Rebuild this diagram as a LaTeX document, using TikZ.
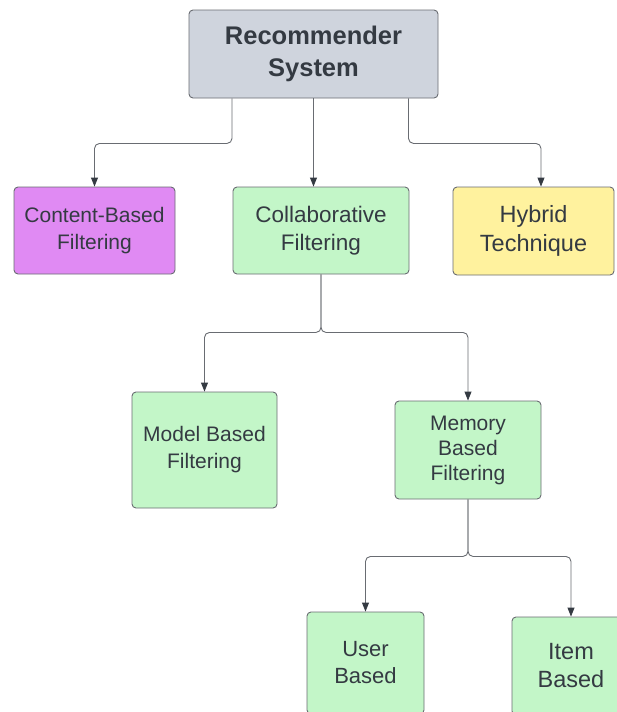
\documentclass[tikz,border=0pt]{standalone}
\usepackage{fontspec}
\setmainfont{Liberation Sans}
\usepackage{tikz}
\usetikzlibrary{arrows.meta}
\usepackage{xcolor}
\definecolor{ColGrey}{RGB}{207,212,221}
\definecolor{ColPurple}{RGB}{224,138,243}
\definecolor{ColGreen}{RGB}{195,246,200}
\definecolor{ColYellow}{RGB}{255,242,158}
\definecolor{ColLine}{RGB}{105,108,114}
\definecolor{ColText}{RGB}{52,58,66}
\tikzstyle{BoxTree}=[rectangle,rounded corners=4pt,draw=ColLine,line width=0.9pt,
inner sep=2pt,align=center,text=ColText]
\tikzstyle{LinkTree}=[ColLine,line width=0.9pt,rounded corners=5pt,
-{Triangle[length=9pt,width=7pt,color=ColText]}]

\begin{document}
\begin{tikzpicture}[x=1pt,y=-1pt]
        \useasboundingbox(0,0)rectangle(617,712);
        \node[BoxTree,fill=ColGrey,minimum width=249pt,minimum height=88pt,
          font=\bfseries\fontsize{25.5}{32}\selectfont](root)at(313.5,54){Recommender\\System};
        \node[BoxTree,fill=ColPurple,minimum width=161pt,minimum height=87pt,
          font=\fontsize{21}{27}\selectfont](content)at(94.5,230.5){Content-Based\\Filtering};
        \node[BoxTree,fill=ColGreen,minimum width=176pt,minimum height=87pt,
          font=\fontsize{22.5}{28}\selectfont](collab)at(321,230.5){Collaborative\\Filtering};
        \node[BoxTree,fill=ColYellow,minimum width=161pt,minimum height=88pt,
          font=\fontsize{23.5}{29}\selectfont](hybrid)at(533.5,231){Hybrid\\Technique};
        \node[BoxTree,fill=ColGreen,minimum width=145pt,minimum height=116pt,
          font=\fontsize{21}{27}\selectfont](model)at(204.5,450){Model Based\\Filtering};
        \node[BoxTree,fill=ColGreen,minimum width=146pt,minimum height=98pt,
          font=\fontsize{21}{25}\selectfont](memory)at(468,450){Memory\\Based\\Filtering};
        \node[BoxTree,fill=ColGreen,minimum width=117pt,minimum height=102pt,
          font=\fontsize{22}{27}\selectfont](user)at(365.5,663){User\\Based};
        \node[BoxTree,fill=ColGreen,minimum width=118pt,minimum height=98pt,
          font=\fontsize{23.5}{28}\selectfont](item)at(571,666){Item\\Based};
        % first level
        \draw[LinkTree]([xshift=-81.5pt]root.south)--++(0,45)-|(content.north);
        \draw[LinkTree](root.south)--(root.south|-collab.north);
        \draw[LinkTree]([xshift=95pt]root.south)--++(0,45)-|([xshift=7.5pt]hybrid.north);
        % collaborative branch
        \draw[LinkTree](collab.south)--++(0,58)-|(model.north);
        \draw[LinkTree](collab.south)--++(0,58)-|(memory.north);
        % memory branch
        \draw[LinkTree](memory.south)--++(0,57)-|(user.north);
        \draw[LinkTree](memory.south)--++(0,57)-|(item.north);
    \end{tikzpicture}
\end{document}
